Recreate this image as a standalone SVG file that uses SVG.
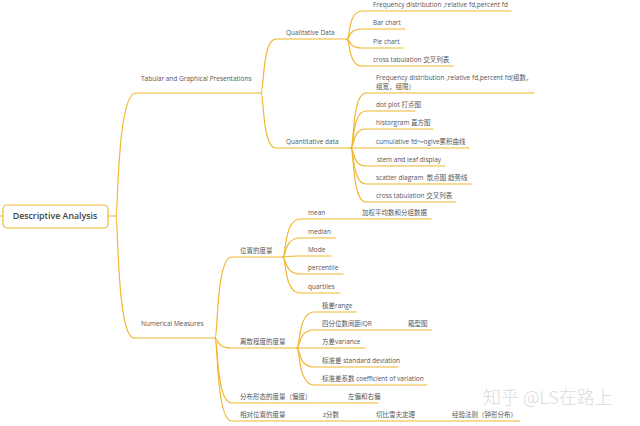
<svg xmlns="http://www.w3.org/2000/svg" width="640" height="426" viewBox="0 0 640 426">
<style>
.c{fill:none;stroke:#F2B630;stroke-width:1.2;stroke-linecap:round}
.t{font-family:"Open Sans","Noto Sans CJK SC",sans-serif;font-size:6.5px;fill:#555}
.r{font-family:"Open Sans","Noto Sans CJK SC",sans-serif;font-size:8.8px;fill:#444;font-weight:600}
.w{font-family:"Noto Sans CJK SC",sans-serif;font-size:18px;fill:#dcdcdc;font-weight:300}
</style>
<rect width="640" height="426" fill="#fff"/>
<g id="connectors">
<path class="c" d="M0,216 H3"/>
<path class="c" d="M108,216 H116"/>
<path class="c" d="M116,216 C118,216 117,93 136,93 H261"/>
<path class="c" d="M116,216 C118,216 117,338 134,338 H215"/>
<path class="c" d="M261,93 C264,93 262,39 276,39 H347"/>
<path class="c" d="M261,93 C264,93 262,148 276,148 H351"/>
<path class="c" d="M347,39 C350,39 348,11 362,11 H511"/>
<path class="c" d="M347,39 C350,39 348,29 362,29 H405"/>
<path class="c" d="M347,39 C350,39 348,48 362,48 H403"/>
<path class="c" d="M347,39 C350,39 348,66 362,66 H453"/>
<path class="c" d="M351,148 C354,148 352,93 366,93 H534"/>
<path class="c" d="M351,148 C354,148 352,111 366,111 H415"/>
<path class="c" d="M351,148 C354,148 352,129 366,129 H433"/>
<path class="c" d="M351,148 H469"/>
<path class="c" d="M351,148 C354,148 352,166 366,166 H445"/>
<path class="c" d="M351,148 C354,148 352,184 366,184 H471"/>
<path class="c" d="M351,148 C354,148 352,202 366,202 H456"/>
<path class="c" d="M215,338 C218,338 216,257 232,257 H283"/>
<path class="c" d="M215,338 C218,338 216,348 232,348 H297"/>
<path class="c" d="M215,338 C218,338 216,403 232,403 H378"/>
<path class="c" d="M215,338 C218,338 216,421 232,421 H520"/>
<path class="c" d="M283,257 C286,257 284,219 300,219 H431"/>
<path class="c" d="M283,257 C286,257 284,238 300,238 H336"/>
<path class="c" d="M283,257 C286,257 284,256 300,256 H331"/>
<path class="c" d="M283,257 C286,257 284,274 300,274 H343"/>
<path class="c" d="M283,257 C286,257 284,293 300,293 H340"/>
<path class="c" d="M297,348 C300,348 298,312 314,312 H356"/>
<path class="c" d="M297,348 C300,348 298,330 314,330 H432"/>
<path class="c" d="M297,348 H365"/>
<path class="c" d="M297,348 C300,348 298,367 314,367 H398"/>
<path class="c" d="M297,348 C300,348 298,385 314,385 H427"/>
</g>
<g id="root">
<rect x="3" y="205" width="105" height="23" rx="4" fill="#fff" stroke="#F2B630" stroke-width="1.2"/>
<text class="r" x="55" y="219.2" text-anchor="middle">Descriptive Analysis</text>
</g>
<g id="tabular"><text class="t" x="141" y="80.5">Tabular and Graphical Presentations</text></g>
<g id="qualitative"><text class="t" x="286" y="35">Qualitative Data</text></g>
<g id="ql-freq"><text class="t" x="373" y="7">Frequency distribution ,relative fd,percent fd</text></g>
<g id="ql-bar"><text class="t" x="373" y="25">Bar chart</text></g>
<g id="ql-pie"><text class="t" x="373" y="44">Pie chart</text></g>
<g id="ql-cross"><text class="t" x="373" y="62">cross tabulation 交叉列表</text></g>
<g id="quantitative"><text class="t" x="286" y="144">Quantitative data</text></g>
<g id="qn-freq"><text class="t" x="376" y="80">Frequency distribution ,relative fd,percent fd(组数，</text><text class="t" x="376" y="89">组宽，组限）</text></g>
<g id="qn-dot"><text class="t" x="376" y="107">dot plot 打点图</text></g>
<g id="qn-hist"><text class="t" x="376" y="125">historgram 直方图</text></g>
<g id="qn-cum"><text class="t" x="376" y="144">cumulative fd～ogive累积曲线</text></g>
<g id="qn-stem"><text class="t" x="377" y="162">stem and leaf display</text></g>
<g id="qn-scatter"><text class="t" x="376" y="180">scatter diagram&#160; 散点图 趋势线</text></g>
<g id="qn-cross"><text class="t" x="376" y="198">cross tabulation 交叉列表</text></g>
<g id="numerical"><text class="t" x="141" y="325.5">Numerical Measures</text></g>
<g id="position"><text class="t" x="240" y="252.5">位置的度量</text></g>
<g id="mean"><text class="t" x="308" y="215">mean</text></g>
<g id="weighted"><text class="t" x="362" y="215">加权平均数和分组数据</text></g>
<g id="median"><text class="t" x="308" y="234">median</text></g>
<g id="mode"><text class="t" x="308" y="252">Mode</text></g>
<g id="percentile"><text class="t" x="308" y="270">percentile</text></g>
<g id="quartiles"><text class="t" x="308" y="289">quartiles</text></g>
<g id="dispersion"><text class="t" x="240" y="344">离散程度的度量</text></g>
<g id="range"><text class="t" x="322" y="308">极差range</text></g>
<g id="iqr"><text class="t" x="322" y="326">四分位数间距IQR</text></g>
<g id="boxplot"><text class="t" x="408" y="326">箱型图</text></g>
<g id="variance"><text class="t" x="322" y="344">方差variance</text></g>
<g id="sd"><text class="t" x="322" y="363">标准差 standard deviation</text></g>
<g id="cv"><text class="t" x="322" y="381">标准差系数 coefficient of variation</text></g>
<g id="shape"><text class="t" x="240" y="399">分布形态的度量（偏度）</text></g>
<g id="skew"><text class="t" x="348" y="399">左偏和右偏</text></g>
<g id="relative"><text class="t" x="240" y="417">相对位置的度量</text></g>
<g id="z"><text class="t" x="323" y="417">z分数</text></g>
<g id="chebyshev"><text class="t" x="376" y="417">切比雪夫定理</text></g>
<g id="empirical"><text class="t" x="452" y="417">经验法则（钟形分布）</text></g>
<text class="w" x="483" y="404">知乎 @LS在路上</text>
</svg>
